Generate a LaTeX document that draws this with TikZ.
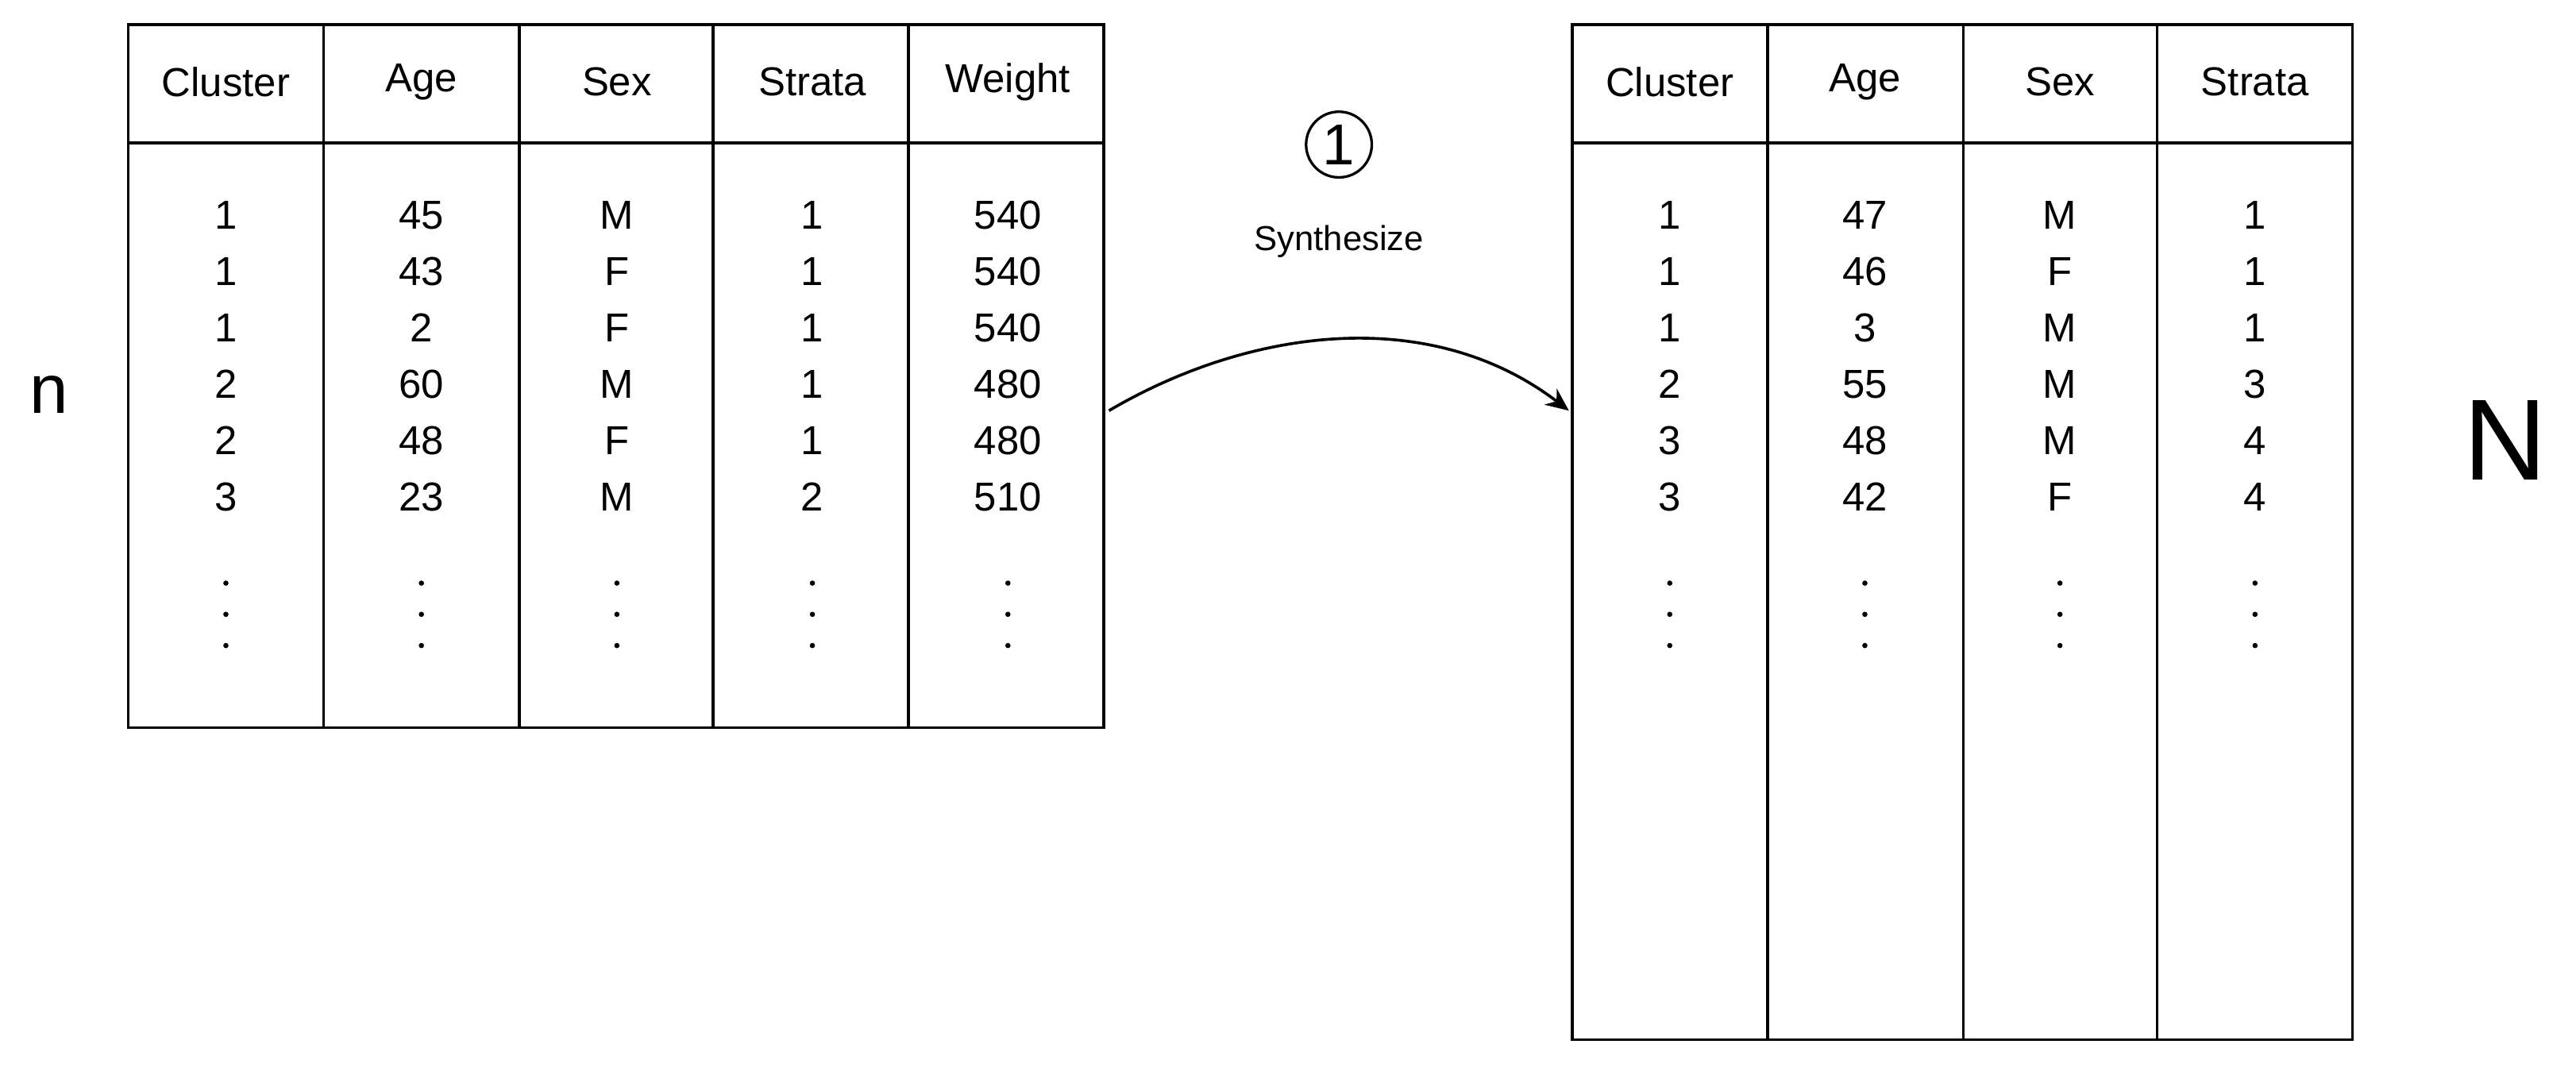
\documentclass[tikz,border=0pt]{standalone}
\usepackage{fontspec}
\setmainfont{Liberation Sans}
\usetikzlibrary{arrows.meta}
\begin{document}
\begin{tikzpicture}[x=0.02cm,y=-0.02cm,
  cell/.style={font=\fontsize{14}{16}\selectfont,anchor=center},
  tbl/.style={draw,line width=1pt}]
\useasboundingbox (0,0) rectangle (1568,654);
% left table
\draw[tbl] (78,15) rectangle (672,443);
\draw[line width=1pt] (78,87) -- (672,87);
\foreach \x in {197,316,434,553} \draw[line width=1pt] (\x,15) -- (\x,443);
\foreach \t [count=\i] in {Cluster,Age,Sex,Strata,Weight}
  \node[cell] at ({78+119*(\i-0.5)},50) {\t};
\foreach \a/\b/\c/\d/\e [count=\r] in {1/45/M/1/540,1/43/F/1/540,1/2/F/1/540,2/60/M/1/480,2/48/F/1/480,3/23/M/2/510}{
  \foreach \v [count=\i] in {\a,\b,\c,\d,\e}
    \node[cell] at ({78+119*(\i-0.5)},{131+34.3*(\r-1)}) {\v};}
\foreach \i in {1,...,5}
  \foreach \y in {355,374,393} \fill ({78+119*(\i-0.5)},\y) circle (1.6);
% right table
\draw[tbl] (957,15) rectangle (1432,633);
\draw[line width=1pt] (957,87) -- (1432,87);
\foreach \x in {1076,1195,1313} \draw[line width=1pt] (\x,15) -- (\x,633);
\foreach \t [count=\i] in {Cluster,Age,Sex,Strata}
  \node[cell] at ({957+118.75*(\i-0.5)},50) {\t};
\foreach \a/\b/\c/\d [count=\r] in {1/47/M/1,1/46/F/1,1/3/M/1,2/55/M/3,3/48/M/4,3/42/F/4}{
  \foreach \v [count=\i] in {\a,\b,\c,\d}
    \node[cell] at ({957+118.75*(\i-0.5)},{131+34.3*(\r-1)}) {\v};}
\foreach \i in {1,...,4}
  \foreach \y in {355,374,393} \fill ({957+118.75*(\i-0.5)},\y) circle (1.6);
% labels
\node[font=\fontsize{24}{26}\selectfont] (n) at (30,240) {n};
\node[font=\fontsize{40}{44}\selectfont] (N) at (1525,268) {N};
\node[draw,circle,line width=0.9pt,minimum size=0.8cm,inner sep=0pt,font=\fontsize{20}{22}\selectfont] (one) at (815,88) {1};
\node[font=\fontsize{12}{14}\selectfont] (syn) at (815,147) {Synthesize};
\coordinate (a) at (675,250);
\coordinate (b) at (955,250);
\draw[line width=1pt,-{Stealth[length=8pt,width=7pt]}] (a) .. controls (760,200) and (870,185) .. (b);
\end{tikzpicture}
\end{document}
